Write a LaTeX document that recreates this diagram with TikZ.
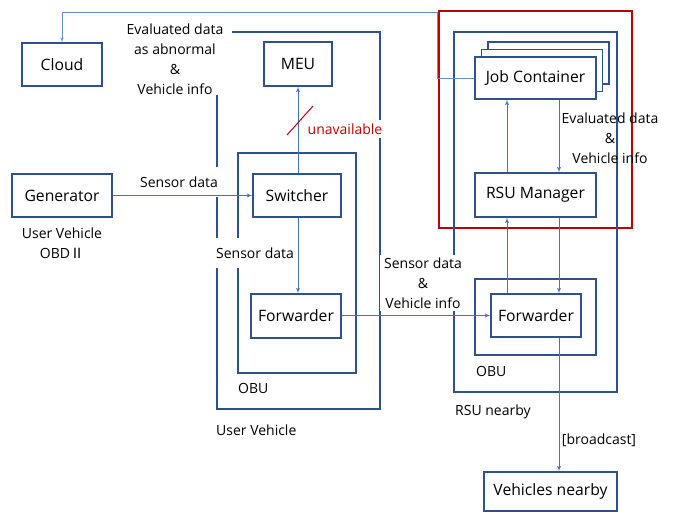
\documentclass[tikz,border=0pt]{standalone}
\usepackage{xcolor}
\usepackage{fontspec}
\setmainfont{Open Sans}
\newfontfamily\krfont{Noto Sans CJK KR}
\usetikzlibrary{shapes,arrows,positioning,calc}

\definecolor{boxblue}{HTML}{2F528F}
\definecolor{flowblue}{HTML}{4472C4}
\definecolor{alertred}{HTML}{C00000}

\begin{document}
\begin{tikzpicture}[
    x=1pt, y=-1pt,
    block/.style={rectangle, draw=boxblue, line width=1.2pt, fill=white, text centered, minimum height=43pt, inner sep=0pt, font=\fontsize{15.7}{18}\selectfont},
    frame/.style={draw=boxblue, line width=1.2pt},
    note/.style={align=center, inner sep=0pt, font=\fontsize{14}{20}\selectfont},
    cover/.style={note, fill=white},
    line/.style={draw=flowblue, line width=0.9pt, -latex'}
]
\useasboundingbox (0,0) rectangle (674,513);

% Highlighted RSU part
\draw [alertred, line width=2pt] (439,11) rectangle (632,228);

% Containers
\draw [frame] (217,32) rectangle (380,409);   % user vehicle
\draw [frame] (238,153) rectangle (356,373);  % its OBU
\draw [frame] (454,32) rectangle (617,392);   % RSU nearby
\draw [frame] (475,279) rectangle (596,355);  % RSU OBU

% Labels that break the container lines
\node [cover, inner xsep=9pt, inner ysep=1pt] (evalcloud) at (175,59) {Evaluated data\\as abnormal\\\&\\Vehicle info};
\node [cover, inner xsep=6pt, inner ysep=10pt] (sensorin) at (179,182) {Sensor data};
\node [cover, inner xsep=4pt, inner ysep=10pt] (sensorobu) at (255,253) {Sensor data};
\node [cover, inner xsep=3pt, inner ysep=4pt, text=alertred] (unavail) at (345,129) {unavailable};
\node [cover, inner xsep=4pt, inner ysep=3pt] (sensorrsu) at (423,283) {Sensor data\\\&\\Vehicle info};

% Other labels
\node [note] (evalrsu) at (610,138) {Evaluated data\\\&\\Vehicle info};
\node [note] (bcast) at (599,440) {[broadcast]};
\node [note] (obd) at (62,243) {User Vehicle\\OBD{\krfont Ⅱ}};
\node [note, anchor=west] (uvname) at (216,430) {User Vehicle};
\node [note, anchor=west] (uvobu) at (238,388) {OBU};
\node [note, anchor=west] (rsuobu) at (476,371) {OBU};
\node [note, anchor=west] (rsuname) at (455,412) {RSU nearby};

% Cloud
\node [block, minimum width=80pt] (cloud) at (62,64.5) {Cloud};

% Generator
\node [block, minimum width=100pt] (gen) at (62,195.5) {Generator};

% MEU
\node [block, minimum width=68pt, minimum height=44pt] (meu) at (298,64) {MEU};

% Switcher
\node [block, minimum width=88pt] (switch) at (297,195.5) {Switcher};

% Forwarder (user vehicle)
\node [block, minimum width=90pt, minimum height=44pt] (fwduser) at (296,316) {Forwarder};

% Job Container, stacked
\node [block, minimum width=121pt, minimum height=42pt] (jobback2) at (548.5,63) {};
\node [block, minimum width=121pt, minimum height=42pt] (jobback1) at (542,70.5) {};
\node [block, minimum width=121pt, minimum height=42pt] (job) at (535.5,78) {Job Container};

% RSU Manager
\node [block, minimum width=121pt, minimum height=44pt] (rsumgr) at (535.5,195) {RSU Manager};

% Forwarder (RSU)
\node [block, minimum width=90pt] (fwdrsu) at (536,315.5) {Forwarder};

% Vehicles nearby
\node [block, minimum width=133pt, minimum height=39pt] (nearby) at (550.5,491.5) {Vehicles nearby};

% Lanes of the vertical links
\coordinate (upx) at (507,0);
\coordinate (dnx) at (559,0);
\coordinate (cloudbus) at (437,12);

% Connections
\path [line] (gen) -- (switch);
\path [line] (switch.north -| meu) -- (meu.south);
\path [line] (switch.south -| meu) -- (fwduser.north -| meu);
\path [line] (fwduser.east |- fwdrsu) -- (fwdrsu.west);
\path [line] (fwdrsu.north -| upx) -- (rsumgr.south -| upx);
\path [line] (rsumgr.north -| upx) -- (job.south -| upx);
\path [line] (job.south -| dnx) -- (rsumgr.north -| dnx);
\path [line] (rsumgr.south -| dnx) -- (fwdrsu.north -| dnx);
\path [line] (fwdrsu.south -| dnx) -- (nearby.north -| dnx);
\path [line, line width=0.7pt, draw=flowblue!80] (job.west) -| (cloudbus) -| (cloud.north);

% Link to MEU cut off
\draw [alertred, line width=1pt] (287,135) -- (313,106);

\end{tikzpicture}
\end{document}
